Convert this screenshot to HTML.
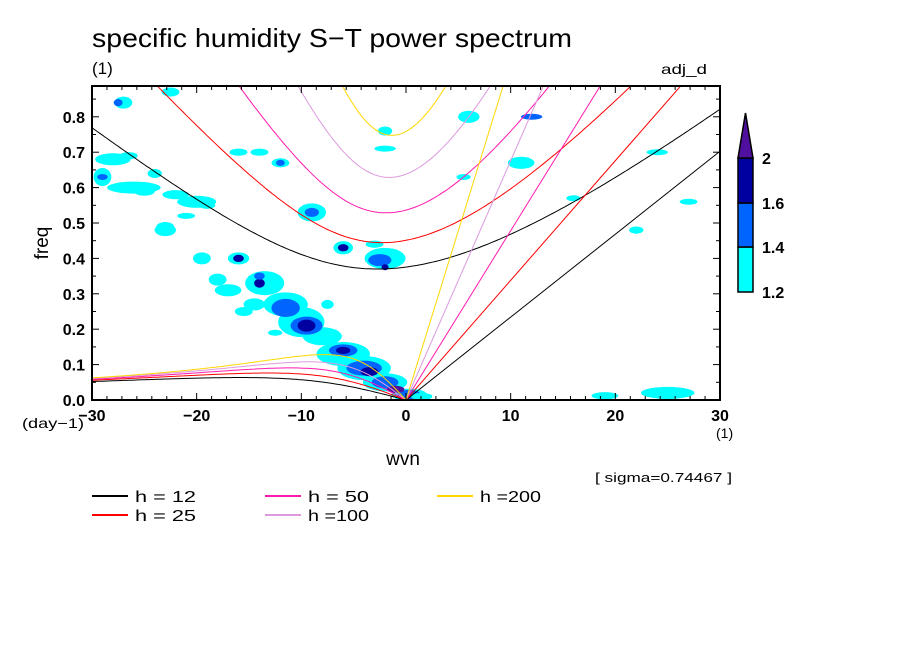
<!DOCTYPE html>
<html><head><meta charset="utf-8">
<style>
html,body{margin:0;padding:0;background:#fff;}
svg{display:block;font-family:"Liberation Sans",sans-serif;}
</style></head>
<body>
<svg id="chart" width="904" height="654" viewBox="0 0 904 654" xmlns="http://www.w3.org/2000/svg">
<rect width="904" height="654" fill="#fff"/>
<text x="92" y="47" font-size="26" textLength="480" lengthAdjust="spacingAndGlyphs" fill="#000">specific humidity S−T power spectrum</text>
<text x="92" y="74" font-size="17" fill="#000">(1)</text>
<text x="661" y="74" font-size="14" textLength="46" lengthAdjust="spacingAndGlyphs" fill="#000">adj_d</text>
<g id="blobs"></g>
<g id="curves"></g>
<g id="axes"></g>
<text transform="translate(48,243) rotate(-90)" text-anchor="middle" font-size="19" fill="#000">freq</text>
<text x="403" y="465" text-anchor="middle" font-size="19" fill="#000">wvn</text>
<text x="22" y="428" font-size="14" textLength="62" lengthAdjust="spacingAndGlyphs" fill="#000">(day−1)</text>
<text x="716" y="438" font-size="14" fill="#000">(1)</text>
<text x="595" y="482" font-size="13" textLength="137" lengthAdjust="spacingAndGlyphs" fill="#000">[ sigma=0.74467 ]</text>
<g id="legend"></g>
<g id="colorbar"></g>
</svg>
<script>
// ---- data ----
const depths = [12, 25, 50, 100, 200];
const depthColors = ["#000000", "#ff0000", "#ff1aae", "#dd99dd", "#ffd700"];
const xTicks = [-30, -20, -10, 0, 10, 20, 30];
const yTicks = [0.0, 0.1, 0.2, 0.3, 0.4, 0.5, 0.6, 0.7, 0.8];
const cbLevels = [1.2, 1.4, 1.6, 2];
const levelColors = ["#00ffff", "#0064ff", "#0000a0", "#50109f"];
// blobs: wvn, freq, half-width (wvn), half-height (freq), level index
const blobWvn  = [-13.5,-11.5,-10,-8,-6,-4,-2,0.3, -11.5,-9.5,-6,-4,-2,0.3, -9.5,-14,-6,-3.5,-1, -2,-2.5,-2, -6,-6,-9,-9, -26,-28,-29,-27,-23,-16,-19.5,-18,-20,-14,-12,-16,-22.5,-24,-22,-21,-17,-14.5,-15.5,-12.5, -16,-14,-12,-29,-27.5, 6,11,12,19,25,22,-2,-2,1.5, -25,-23,-26.5,-19,-7.5,-3,5.5,16,24,27];
const blobFreq = [0.33,0.27,0.22,0.18,0.13,0.09,0.05,0.015, 0.26,0.21,0.14,0.09,0.05,0.015, 0.21,0.33,0.14,0.08,0.03, 0.40,0.395,0.375, 0.43,0.43,0.53,0.53, 0.60,0.68,0.63,0.84,0.48,0.40,0.40,0.34,0.56,0.70,0.67,0.70,0.87,0.64,0.58,0.52,0.31,0.27,0.25,0.19, 0.40,0.35,0.67,0.63,0.84, 0.80,0.67,0.80,0.012,0.02,0.48,0.76,0.71,0.01, 0.59,0.49,0.69,0.55,0.27,0.44,0.63,0.57,0.70,0.56];
const blobRx   = [2.2,2.5,2.6,2.2,3,3,2.5,2, 1.6,1.8,1.6,2,1.5,1.3, 1,0.6,0.8,1,1, 2.3,1.3,0.4, 1.1,0.6,1.6,0.8, 3,2,1,1,1.2,1.2,1,1,2.2,1,1,1,1,0.8,1.5,1,1.5,1.2,1,0.8, 0.6,0.6,0.5,0.6,0.5, 1.2,1.5,1.2,1.5,3,0.8,0.8,1.2,1.2, 1.2,1,1,0.9,0.7,1,0.8,0.8,1.2,1];
const blobRy   = [0.04,0.04,0.05,0.03,0.04,0.04,0.03,0.02, 0.03,0.03,0.02,0.025,0.02,0.016, 0.02,0.015,0.012,0.015,0.012, 0.035,0.02,0.01, 0.022,0.012,0.03,0.015, 0.02,0.02,0.03,0.02,0.02,0.02,0.02,0.02,0.02,0.012,0.015,0.012,0.015,0.015,0.015,0.01,0.02,0.02,0.015,0.01, 0.012,0.012,0.01,0.01,0.012, 0.02,0.02,0.01,0.012,0.02,0.012,0.015,0.01,0.012, 0.015,0.015,0.012,0.012,0.015,0.012,0.01,0.01,0.01,0.01];
const blobLevel= [0,0,0,0,0,0,0,0, 1,1,1,1,1,1, 2,2,2,2,3, 0,1,2, 0,2,0,1, 0,0,0,0,0,0,0,0,0,0,0,0,0,0,0,0,0,0,0,0, 2,1,1,1,1, 0,0,1,0,0,0,0,0,0, 0,0,0,0,0,0,0,0,0,0];

// ---- layout ----
const X0 = 92, X1 = 720, Y0 = 400, Y1 = 86;
const XMIN = -30, XMAX = 30, YMAX = 0.887;
const BLOB_SCALE = 0.85;
const sx = v => X0 + (v - XMIN) / (XMAX - XMIN) * (X1 - X0);
const sy = v => Y0 - v / YMAX * (Y0 - Y1);
const NS = "http://www.w3.org/2000/svg";
function mk(tag, attrs, parent) {
  const e = document.createElementNS(NS, tag);
  for (const k in attrs) e.setAttribute(k, attrs[k]);
  parent.appendChild(e);
  return e;
}
const svg = document.getElementById("chart");
const clip = mk("clipPath", {id: "plotclip"}, mk("defs", {}, svg));
mk("rect", {x: X0, y: Y1, width: X1 - X0, height: Y0 - Y1}, clip);

// ---- blobs ----
const gB = document.getElementById("blobs");
gB.setAttribute("clip-path", "url(#plotclip)");
for (let i = 0; i < blobWvn.length; i++) {
  const cx = sx(blobWvn[i]), cy = sy(blobFreq[i]);
  const rx = BLOB_SCALE * blobRx[i] * (X1 - X0) / 60, ry = BLOB_SCALE * blobRy[i] * (Y0 - Y1) / YMAX;
  const el = mk("ellipse", {cx: cx, cy: cy, rx: rx, ry: ry, fill: levelColors[blobLevel[i]]}, gB);
  
  
}

// ---- dispersion curves (Matsuno n=1, Kelvin) ----
const beta = 2.29e-11, Re = 6.371e6, g = 9.81, toCpd = 86400 / (2 * Math.PI);
function roots(k, c) {
  const p = -(c * c * k * k + 3 * beta * c), q = -beta * k * c * c;
  const m = 2 * Math.sqrt(-p / 3);
  let a = 3 * q / (2 * p) * Math.sqrt(-3 / p);
  a = Math.max(-1, Math.min(1, a));
  const th = Math.acos(a) / 3;
  return [0, 1, 2].map(j => m * Math.cos(th - 2 * Math.PI * j / 3));
}
const gC = document.getElementById("curves");
gC.setAttribute("clip-path", "url(#plotclip)");
depths.forEach((h, i) => {
  const c = Math.sqrt(g * h);
  let ig = "", ros = "";
  for (let w = -30; w <= 30.001; w += 0.25) {
    const k = w / Re, r = roots(k, c);
    const top = Math.max(...r) * toCpd;
    ig += (ig ? "L" : "M") + sx(w).toFixed(1) + "," + sy(top).toFixed(1);
    if (w < 0) {
      const pos = r.filter(v => v > 0);
      const sm = Math.min(...pos) * toCpd;
      ros += (ros ? "L" : "M") + sx(w).toFixed(1) + "," + sy(sm).toFixed(1);
    }
  }
  ros += "L" + sx(0) + "," + sy(0);
  const kel = "M" + sx(0) + "," + sy(0) + "L" + sx(30) + "," + sy(c * 30 / Re * toCpd);
  [["ig", ig], ["rossby", ros], ["kelvin", kel]].forEach(([nm, d]) => {
    const p = mk("path", {d: d, fill: "none", stroke: depthColors[i], "stroke-width": 1}, gC);
    
    
  });
});

// ---- axes ----
const gA = document.getElementById("axes");
mk("rect", {x: X0, y: Y1, width: X1 - X0, height: Y0 - Y1, fill: "none", stroke: "#000", "stroke-width": 2}, gA);
for (let j = 0; j <= 42; j++) {
  const x = X0 + j * (X1 - X0) / 42, len = (j % 7 === 0) ? 7 : 4;
  mk("line", {x1: x, y1: Y0, x2: x, y2: Y0 - len, stroke: "#000", "stroke-width": 1}, gA);
  mk("line", {x1: x, y1: Y1, x2: x, y2: Y1 + len, stroke: "#000", "stroke-width": 1}, gA);
}
for (let v = 0; v <= YMAX; v += 0.05) {
  const y = sy(v), len = (Math.round(v * 100) % 10 === 0) ? 7 : 4;
  mk("line", {x1: X0, y1: y, x2: X0 + len, y2: y, stroke: "#000"}, gA);
  mk("line", {x1: X1, y1: y, x2: X1 - len, y2: y, stroke: "#000"}, gA);
}
xTicks.forEach(v => {
  const t = mk("text", {x: sx(v), y: 421, "text-anchor": "middle", "font-size": 16, "font-weight": "bold", fill: "#000"}, gA);
  t.textContent = (v < 0 ? "−" + (-v) : String(v));
  
  
});
yTicks.forEach(v => {
  const t = mk("text", {x: 85, y: sy(v) + 6, "text-anchor": "end", "font-size": 16, "font-weight": "bold", fill: "#000"}, gA);
  t.textContent = v.toFixed(1);
  
  
});

// ---- legend ----
const gL = document.getElementById("legend");
const lx = [92, 265, 437], ly = [496, 515];
depths.forEach((h, i) => {
  const col = Math.floor(i / 2), row = i % 2;
  const x = lx[col], y = ly[row];
  const ln = mk("line", {x1: x, y1: y, x2: x + 36, y2: y, stroke: depthColors[i], "stroke-width": 2}, gL);
  
  
  const t = mk("text", {x: x + 43, y: y + 6, "font-size": 16, textLength: 61, lengthAdjust: "spacingAndGlyphs", fill: "#000"}, gL);
  t.textContent = h >= 100 ? "h =" + h : "h = " + h;
  
  
});

// ---- colorbar ----
const gCb = document.getElementById("colorbar");
const cbx = 738, cbw = 15, cbY = [292, 247, 203, 158];
for (let i = 0; i < 3; i++) {
  const r = mk("rect", {x: cbx, y: cbY[i + 1], width: cbw, height: cbY[i] - cbY[i + 1], fill: levelColors[i], stroke: "#000", "stroke-width": 1.5}, gCb);
  
  
}
const tri = mk("polygon", {points: `${cbx},${cbY[3]} ${cbx + cbw},${cbY[3]} ${cbx + cbw / 2},113`, fill: levelColors[3], stroke: "#000", "stroke-width": 1.5}, gCb);


cbLevels.forEach((v, i) => {
  const t = mk("text", {x: 762, y: cbY[i] + 6, "font-size": 16, "font-weight": "bold", fill: "#000"}, gCb);
  t.textContent = String(v);
  
  
});
</script>
</body></html>
